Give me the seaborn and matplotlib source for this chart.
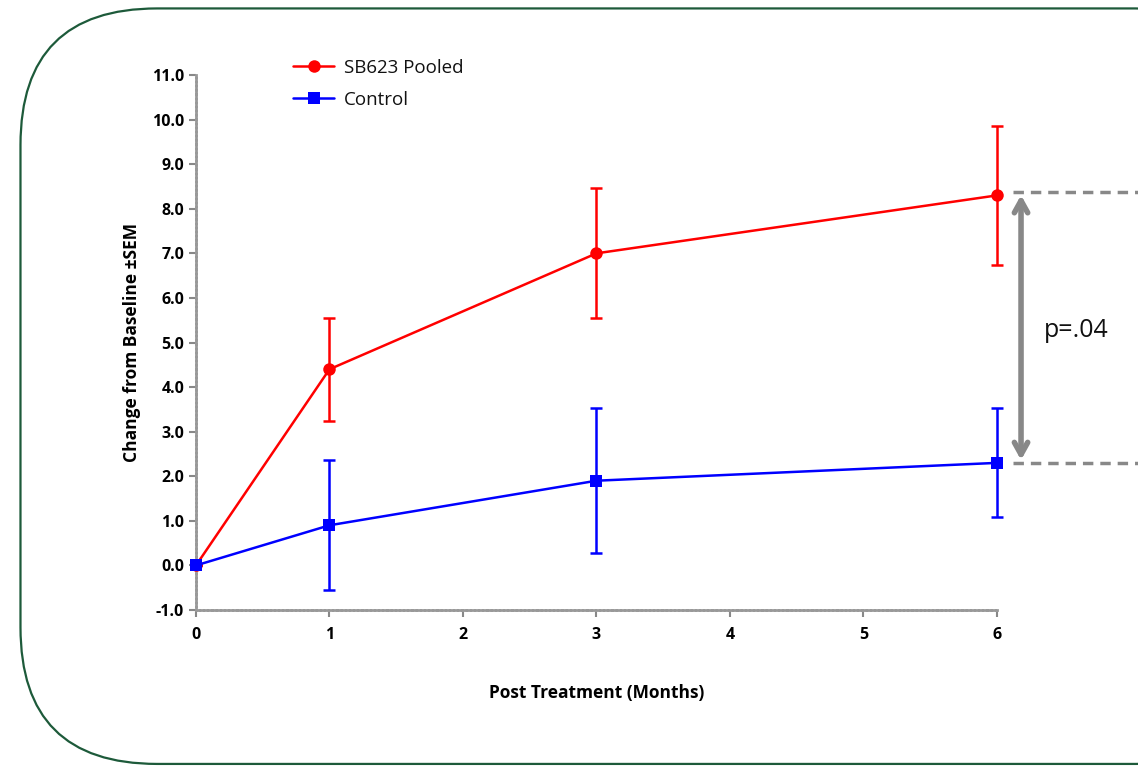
import pandas as pd
import matplotlib.pyplot as plt
import seaborn as sns
from matplotlib.patches import FancyBboxPatch

# values
months = [0, 1, 3, 6]
sb623_mean = [0.0, 4.4, 7.0, 8.3]
sb623_sem = [0.0, 1.15, 1.46, 1.56]
control_mean = [0.0, 0.9, 1.9, 2.3]
control_sem = [0.0, 1.46, 1.63, 1.22]
group_names = ["SB623 Pooled", "Control"]
y_ticks = [-1, 0, 1, 2, 3, 4, 5, 6, 7, 8, 9, 10, 11]
x_ticks = [0, 1, 2, 3, 4, 5, 6]

data = pd.DataFrame({
    "month": months + months,
    "change": sb623_mean + control_mean,
    "sem": sb623_sem + control_sem,
    "group": [group_names[0]] * 4 + [group_names[1]] * 4,
})

if __name__ == "__main__":
    sns.set_theme("paper")
    sns.set_style("ticks")
    plt.rcParams["font.family"] = ["Open Sans", "DejaVu Sans"]

    colors = {"SB623 Pooled": "#ff0000", "Control": "#0000ff"}

    fig = plt.figure(figsize=(11.38, 7.67), dpi=100)
    ax = fig.add_axes([0.1722, 0.2047, 0.7039, 0.6975])

    # rounded frame around everything
    frame = FancyBboxPatch((0.018, 0.004), 1.1, 0.985,
                           boxstyle="round,pad=0,rounding_size=0.12",
                           transform=fig.transFigure, fill=False,
                           edgecolor="#1d5a3a", linewidth=1.6,
                           mutation_aspect=1138 / 767, clip_on=False)
    fig.patches.append(frame)

    # error bars first so the line and markers sit on top
    for g in group_names:
        sub = data[data["group"] == g]
        eb = ax.errorbar(sub["month"], sub["change"], yerr=sub["sem"], fmt="none",
                         ecolor=colors[g], elinewidth=1.8, capsize=4, capthick=1.8,
                         zorder=2)
        for art in eb.lines[1] + eb.lines[2]:
            art.set_clip_on(False)

    sns.lineplot(data=data, x="month", y="change", hue="group", style="group",
                 palette=colors, markers={"SB623 Pooled": "o", "Control": "s"},
                 dashes=False, markersize=9, markeredgewidth=0, linewidth=1.8,
                 ax=ax, zorder=3)
    for ln in ax.lines:
        ln.set_clip_on(False)

    ax.set_xlim(0, 6)
    ax.set_ylim(-1, 11)
    ax.set_xticks(x_ticks)
    ax.set_yticks(y_ticks)
    ax.set_yticklabels([f"{v:.1f}" for v in y_ticks])
    for lab in ax.get_xticklabels() + ax.get_yticklabels():
        lab.set_fontweight("bold")
        lab.set_fontsize(11.5)
        lab.set_color("black")
    ax.tick_params(axis="both", length=5, width=1.5, color="#888888")
    ax.tick_params(axis="x", pad=7)

    sns.despine(ax=ax)
    for s in ["left", "bottom"]:
        ax.spines[s].set_color("#999999")
        ax.spines[s].set_linewidth(2)
        ax.spines[s].set_linestyle((0, (1, 0.5)))

    ax.set_xlabel("Post Treatment (Months)", fontsize=12.5, fontweight="bold",
                  labelpad=30, color="black")
    ax.set_ylabel("Change from Baseline \u00b1SEM", fontsize=12.5,
                  fontweight="bold", labelpad=8, color="black")

    leg = ax.legend(loc="upper left", bbox_to_anchor=(0.1, 1.062), frameon=False,
                    fontsize=13.5, handlelength=2.2, labelspacing=0.75,
                    handletextpad=0.5)
    for t in leg.get_texts():
        t.set_color("#111111")

    # significance annotation outside the axes
    ax.plot([6.12, 7.1], [8.37, 8.37], color="#888888", lw=2.5,
            linestyle=(0, (3, 2)), clip_on=False)
    ax.plot([6.12, 7.1], [2.3, 2.3], color="#888888", lw=2.5,
            linestyle=(0, (3, 2)), clip_on=False)
    ax.annotate("", xy=(6.18, 8.37), xytext=(6.18, 2.3),
                arrowprops=dict(arrowstyle="<->,head_length=0.9,head_width=0.5",
                                color="#888888", lw=4),
                annotation_clip=False)
    ax.text(6.35, 5.28, "p=.04", fontsize=18, va="center", ha="left",
            color="#111111")

    plt.savefig("out.png", dpi=100)
